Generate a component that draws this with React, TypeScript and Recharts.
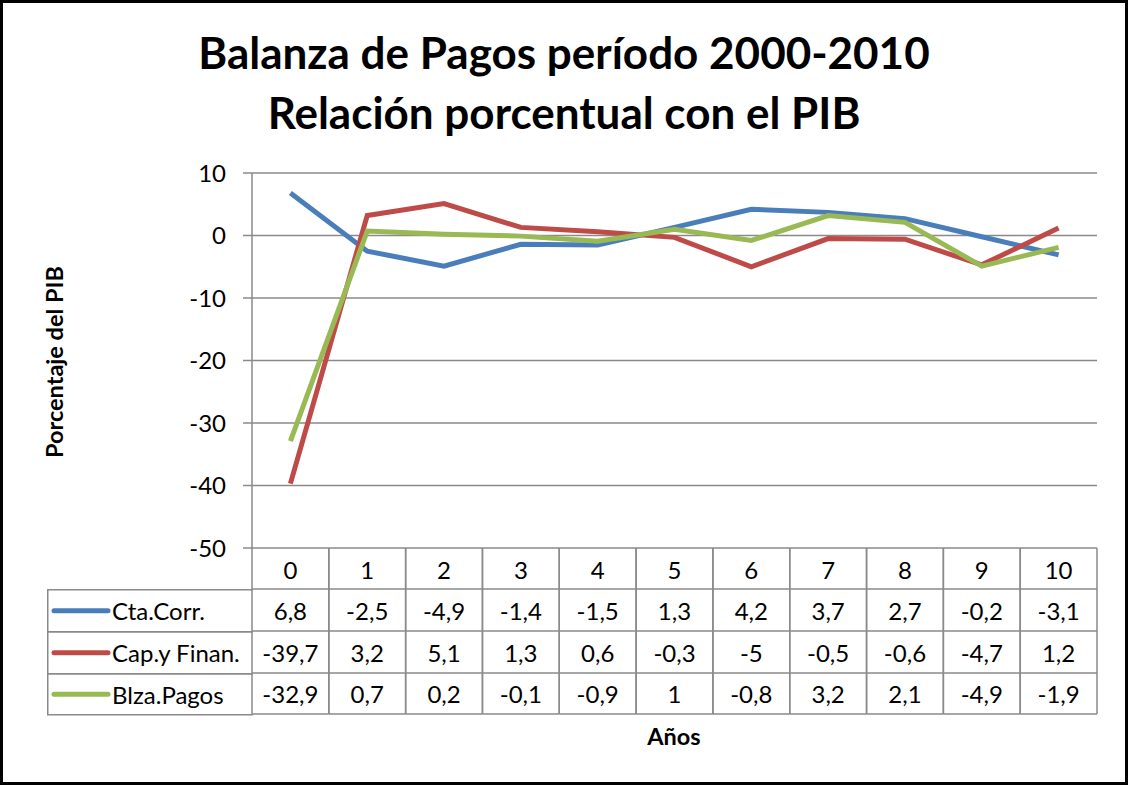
import React from "react";
import { LineChart, Line, XAxis, YAxis, CartesianGrid, Legend } from "recharts";

const years = ["0", "1", "2", "3", "4", "5", "6", "7", "8", "9", "10"];
const ctaCorr = [6.8, -2.5, -4.9, -1.4, -1.5, 1.3, 4.2, 3.7, 2.7, -0.2, -3.1];
const capFinan = [-39.7, 3.2, 5.1, 1.3, 0.6, -0.3, -5, -0.5, -0.6, -4.7, 1.2];
const blzaPagos = [-32.9, 0.7, 0.2, -0.1, -0.9, 1, -0.8, 3.2, 2.1, -4.9, -1.9];
const yTicks = [10, 0, -10, -20, -30, -40, -50];

const series = [
  { key: "cta", name: "Cta.Corr.", color: "#4A7EBB", values: ctaCorr },
  { key: "cap", name: "Cap.y Finan.", color: "#BE4B48", values: capFinan },
  { key: "blza", name: "Blza.Pagos", color: "#98B954", values: blzaPagos },
];

const data = years.map((year, i) => ({
  year,
  cta: ctaCorr[i],
  cap: capFinan[i],
  blza: blzaPagos[i],
}));

const FONT = "Lato, 'Open Sans', sans-serif";
const GRID = "#8A8A8A";
const TXT = 24;
// row edges of the data table, measured from the bottom of the plot
const ROWS = [0, 41, 83, 125, 166];

const fmt = (v: number) => String(v).replace(".", ",");

// each category tick draws one column of the data table
const TableColumn = (props: any) => {
  const { x, y, payload, index } = props;
  const half = payload?.offset || 845 / 22;
  const left = x - half;
  const right = x + half;
  return (
    <g>
      <line x1={left} x2={left} y1={y} y2={y + ROWS[4]} stroke={GRID} strokeWidth={1.5} />
      <line x1={right} x2={right} y1={y} y2={y + ROWS[4]} stroke={GRID} strokeWidth={1.5} />
      {ROWS.slice(1).map((r) => (
        <line key={r} x1={left} x2={right} y1={y + r} y2={y + r} stroke={GRID} strokeWidth={1.5} />
      ))}
      <text x={x} y={y + 21} textAnchor="middle" dominantBaseline="central" fontSize={TXT} fontFamily={FONT} fill="#000">
        {payload.value}
      </text>
      {series.map((s, i) => (
        <text
          key={s.key}
          x={x}
          y={y + (ROWS[i + 1] + ROWS[i + 2]) / 2}
          textAnchor="middle"
          dominantBaseline="central"
          fontSize={TXT}
          fontFamily={FONT}
          fill="#000"
        >
          {fmt(s.values[index])}
        </text>
      ))}
    </g>
  );
};

const TableLegend = (props: any) => {
  const payload = props.payload || [];
  // keep the series order of the table rows
  const items = series.map((s) => {
    const p = payload.find((it: any) => it.value === s.name);
    return { value: s.name, color: p?.color || s.color };
  });
  return (
    <svg width={206} height={127} style={{ display: "block" }}>
      {items.map((it, i) => {
        const top = ROWS[i + 1] - ROWS[1] + 0.75;
        const bottom = ROWS[i + 2] - ROWS[1] + 0.75;
        const mid = (top + bottom) / 2;
        return (
          <g key={it.value}>
            <line x1={0} x2={206} y1={top} y2={top} stroke={GRID} strokeWidth={1.5} />
            <line x1={0} x2={206} y1={bottom} y2={bottom} stroke={GRID} strokeWidth={1.5} />
            <line x1={0.75} x2={0.75} y1={top} y2={bottom} stroke={GRID} strokeWidth={1.5} />
            <line x1={7} x2={61} y1={mid} y2={mid} stroke={it.color} strokeWidth={5} strokeLinecap="round" />
            <text x={65} y={mid} dominantBaseline="central" fontSize={TXT} fontFamily={FONT} fill="#000">
              {it.value}
            </text>
          </g>
        );
      })}
    </svg>
  );
};

export default function App() {
  return (
    <div
      style={{
        position: "fixed",
        left: 0,
        top: 0,
        width: 1128,
        height: 785,
        background: "#fff",
        border: "3px solid #000",
        boxSizing: "border-box",
        fontFamily: FONT,
      }}
    >
      <div style={{ position: "absolute", left: -3, top: -3 }}>
        <LineChart width={1128} height={785} data={data} margin={{ top: 173, right: 31, bottom: 71, left: 192 }}>
          <CartesianGrid vertical={false} stroke={GRID} strokeWidth={1.5} />
          <XAxis
            dataKey="year"
            scale="band"
            height={166}
            axisLine={false}
            tickLine={false}
            tickSize={0}
            tickMargin={0}
            interval={0}
            tick={<TableColumn />}
          />
          <YAxis
            width={60}
            domain={[-50, 10]}
            ticks={yTicks}
            interval={0}
            axisLine={{ stroke: GRID, strokeWidth: 1.5 }}
            tickLine={{ stroke: GRID, strokeWidth: 1.5 }}
            tickSize={9}
            tickMargin={17}
            tick={{ fill: "#000", fontSize: TXT, fontFamily: FONT }}
          />
          <Legend
            layout="vertical"
            align="center"
            verticalAlign="middle"
            content={<TableLegend />}
            wrapperStyle={{ left: 47, top: 589, width: 206, height: 127 }}
          />
          {series.map((s) => (
            <Line
              key={s.key}
              dataKey={s.key}
              name={s.name}
              stroke={s.color}
              strokeWidth={5}
              dot={false}
              activeDot={false}
              isAnimationActive={false}
            />
          ))}
        </LineChart>
      </div>
      <div
        style={{
          position: "absolute",
          left: 0,
          right: 0,
          top: 19,
          textAlign: "center",
          fontWeight: 700,
          fontSize: 44,
          lineHeight: "60px",
          color: "#000",
        }}
      >
        <div>Balanza de Pagos período 2000-2010</div>
        <div>Relación porcentual con el PIB</div>
      </div>
      <div
        style={{
          position: "absolute",
          left: 51,
          top: 359,
          transform: "translate(-50%, -50%) rotate(-90deg)",
          whiteSpace: "nowrap",
          fontWeight: 700,
          fontSize: 23.5,
        }}
      >
        Porcentaje del PIB
      </div>
      <div
        style={{
          position: "absolute",
          left: 671,
          top: 733,
          transform: "translate(-50%, -50%)",
          fontWeight: 700,
          fontSize: 23.5,
        }}
      >
        Años
      </div>
    </div>
  );
}
